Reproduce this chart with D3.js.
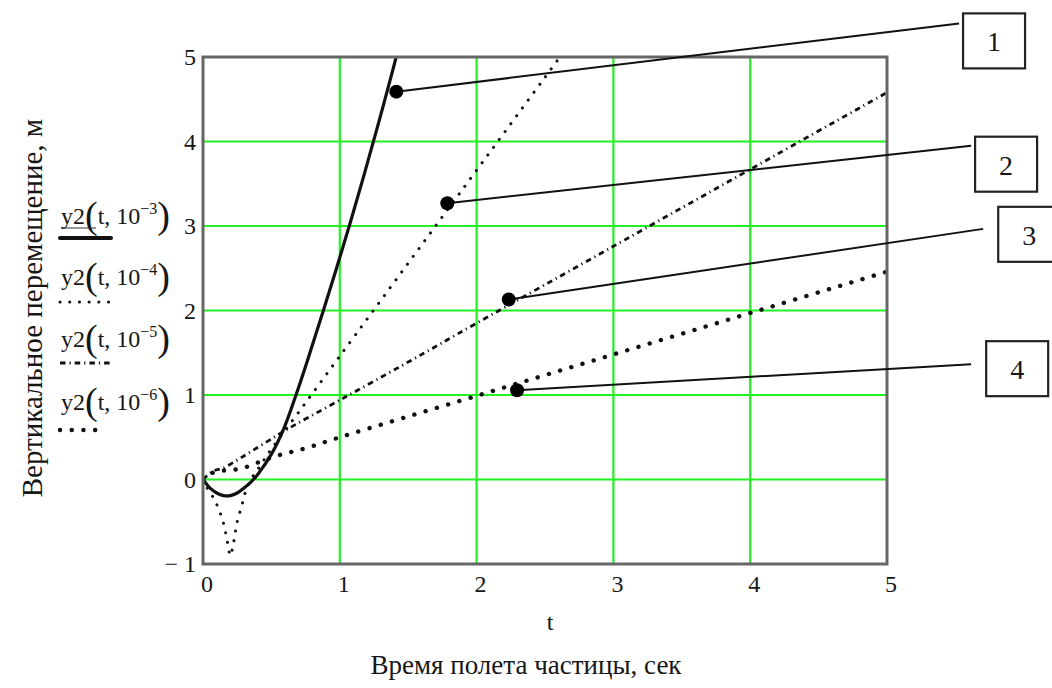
<!DOCTYPE html>
<html>
<head>
<meta charset="utf-8">
<script src="https://cdn.jsdelivr.net/npm/d3@7"></script>
<style>
  html, body { margin: 0; padding: 0; background: #ffffff; }
  svg { display: block; }
  text { font-family: "Liberation Serif", "Times New Roman", serif; fill: #161616; }
</style>
</head>
<body>
<svg id="chart" width="1052" height="688"></svg>
<script>
// Vertical displacement y2(t, k) for four drag coefficients k
const t3 = [0, 0.05, 0.1, 0.15, 0.2, 0.25, 0.3, 0.35, 0.4, 0.5, 0.59, 0.68, 0.78, 0.88, 0.98, 1.08, 1.18, 1.28, 1.38, 1.46];
const y3 = [0, -0.1, -0.16, -0.19, -0.19, -0.16, -0.1, -0.03, 0.06, 0.3, 0.6, 1.0, 1.49, 2.0, 2.52, 3.06, 3.62, 4.2, 4.8, 5.3];

const t4 = [0, 0.03, 0.07, 0.11, 0.15, 0.18, 0.2, 0.22, 0.25, 0.28, 0.31, 0.35, 0.4, 0.5, 0.71, 1.0, 1.5, 2.0, 2.65];
const y4 = [0, -0.1, -0.2, -0.33, -0.52, -0.75, -0.9, -0.78, -0.5, -0.33, -0.15, 0.0, 0.12, 0.36, 0.82, 1.46, 2.56, 3.66, 5.09];

const t5 = [0, 0.04, 0.09, 0.14, 0.22, 0.34, 0.48, 0.6, 1.0, 1.5, 2.0, 3.0, 4.0, 5.0];
const y5 = [0, 0.06, 0.11, 0.13, 0.2, 0.32, 0.46, 0.58, 0.94, 1.39, 1.85, 2.76, 3.67, 4.58];

const t6 = [0, 0.05, 0.1, 0.2, 0.3, 0.4, 0.56, 0.75, 1.0, 2.0, 3.0, 4.0, 5.0];
const y6 = [0, 0.06, 0.1, 0.11, 0.14, 0.2, 0.29, 0.37, 0.5, 0.99, 1.48, 1.97, 2.46];

const seriesExp = ["-3", "-4", "-5", "-6"];

// Axis ticks
const xTicks = [0, 1, 2, 3, 4, 5];
const yTicks = [-1, 0, 1, 2, 3, 4, 5];

// Numbered callouts: marker on a curve, leader end, box corner (all in t / y units)
const calloutNames = ["1", "2", "3", "4"];
const markerT = [1.413, 1.786, 2.235, 2.296];
const markerY = [4.59, 3.27, 2.13, 1.056];
const leaderT = [5.527, 5.615, 5.703, 5.615];
const leaderY = [5.397, 3.950, 2.966, 1.364];
const boxT = [5.556, 5.644, 5.813, 5.725];
const boxY = [5.516, 4.057, 3.227, 1.637];

const svg = d3.select("#chart");
const M = { left: 203, right: 887, top: 57, bottom: 564 };

const x = d3.scaleLinear().domain([0, 5]).range([M.left, M.right]);
const y = d3.scaleLinear().domain([-1, 5]).range([M.bottom, M.top]);

svg.append("defs").append("clipPath").attr("id", "plot-clip")
  .append("rect")
  .attr("x", M.left).attr("y", M.top)
  .attr("width", M.right - M.left).attr("height", M.bottom - M.top);

// Green grid
const grid = svg.append("g");
grid.selectAll("line.gx").data(xTicks.slice(1, -1)).join("line")
  .attr("x1", d => x(d)).attr("x2", d => x(d))
  .attr("y1", M.top).attr("y2", M.bottom)
  .attr("stroke", "#22f022").attr("stroke-width", 2.2);
grid.selectAll("line.gy").data(yTicks.slice(1, -1)).join("line")
  .attr("y1", d => y(d)).attr("y2", d => y(d))
  .attr("x1", M.left).attr("x2", M.right)
  .attr("stroke", "#22f022").attr("stroke-width", 2.2);

// Curves
const styles = [
  { t: t3, v: y3, width: 3.2, dash: null, cap: "round" },
  { t: t4, v: y4, width: 3, dash: "0.1,9.6", cap: "round" },
  { t: t5, v: y5, width: 2.8, dash: "5.5,4,1.2,4", cap: "butt" },
  { t: t6, v: y6, width: 4.4, dash: "0.1,11.6", cap: "round" }
];

const line = d3.line()
  .x(d => x(d[0])).y(d => y(d[1]))
  .curve(d3.curveCatmullRom.alpha(0.5));

const curves = svg.append("g").attr("clip-path", "url(#plot-clip)");
styles.forEach(s => {
  curves.append("path")
    .datum(s.t.map((tv, i) => [tv, s.v[i]]))
    .attr("d", line)
    .attr("fill", "none")
    .attr("stroke", "#111")
    .attr("stroke-width", s.width)
    .attr("stroke-linecap", s.cap)
    .attr("stroke-dasharray", s.dash);
});

// Frame
svg.append("rect")
  .attr("x", M.left).attr("y", M.top)
  .attr("width", M.right - M.left).attr("height", M.bottom - M.top)
  .attr("fill", "none").attr("stroke", "#666").attr("stroke-width", 3);

// Tick labels
svg.append("g").selectAll("text").data(yTicks).join("text")
  .attr("x", M.left - 7).attr("y", d => y(d) + 8)
  .attr("text-anchor", "end").attr("font-size", 24)
  .text(d => d < 0 ? "\u2212 " + Math.abs(d) : d);

svg.append("g").selectAll("text").data(xTicks).join("text")
  .attr("x", d => x(d) + 4).attr("y", 592)
  .attr("text-anchor", "middle").attr("font-size", 24)
  .text(d => d);

// Axis names
svg.append("text").attr("x", 550).attr("y", 630)
  .attr("text-anchor", "middle").attr("font-size", 24).text("t");

svg.append("text").attr("x", 526).attr("y", 674)
  .attr("text-anchor", "middle").attr("font-size", 27)
  .text("Время полета частицы, сек");

svg.append("text")
  .attr("transform", "translate(42,308) rotate(-90)")
  .attr("text-anchor", "middle").attr("font-size", 29)
  .text("Вертикальное перемещение, м");

// Legend: trace names with line samples
const legendBase = [224, 285, 347, 410];
const legendSample = [238, 302, 363, 430];
const legend = svg.append("g");
seriesExp.forEach((e, i) => {
  const tx = legend.append("text").attr("x", 61).attr("y", legendBase[i]).attr("font-size", 24);
  tx.append("tspan").text("y2");
  tx.append("tspan").attr("font-size", 38).attr("dy", 4).text("(");
  tx.append("tspan").attr("font-size", 24).attr("dy", -4).text("t, 10");
  tx.append("tspan").attr("font-size", 16).attr("dy", -10).text(e.replace("-", "\u2212"));
  tx.append("tspan").attr("font-size", 38).attr("dy", 14).text(")");
  const s = styles[i];
  legend.append("line")
    .attr("x1", 60).attr("x2", i === 3 ? 105 : 111)
    .attr("y1", legendSample[i]).attr("y2", legendSample[i])
    .attr("stroke", "#111")
    .attr("stroke-width", i === 0 ? 4 : s.width)
    .attr("stroke-linecap", s.cap)
    .attr("stroke-dasharray", s.dash);
});
legend.append("line").attr("x1", 61).attr("x2", 96)
  .attr("y1", legendBase[0] + 4).attr("y2", legendBase[0] + 4)
  .attr("stroke", "#333").attr("stroke-width", 1.2);

// Callouts
const callouts = svg.append("g");
calloutNames.forEach((name, i) => {
  callouts.append("line")
    .attr("x1", x(markerT[i])).attr("y1", y(markerY[i]))
    .attr("x2", x(leaderT[i])).attr("y2", y(leaderY[i]))
    .attr("stroke", "#111").attr("stroke-width", 2);
  callouts.append("circle")
    .attr("cx", x(markerT[i])).attr("cy", y(markerY[i])).attr("r", 7)
    .attr("fill", "#000");
  const bx = x(boxT[i]), by = y(boxY[i]);
  callouts.append("rect")
    .attr("x", bx).attr("y", by).attr("width", 62).attr("height", 55)
    .attr("fill", "#fff").attr("stroke", "#222").attr("stroke-width", 2.2);
  callouts.append("text")
    .attr("x", bx + 31).attr("y", by + 38)
    .attr("text-anchor", "middle").attr("font-size", 28)
    .text(name);
});
</script>
</body>
</html>
